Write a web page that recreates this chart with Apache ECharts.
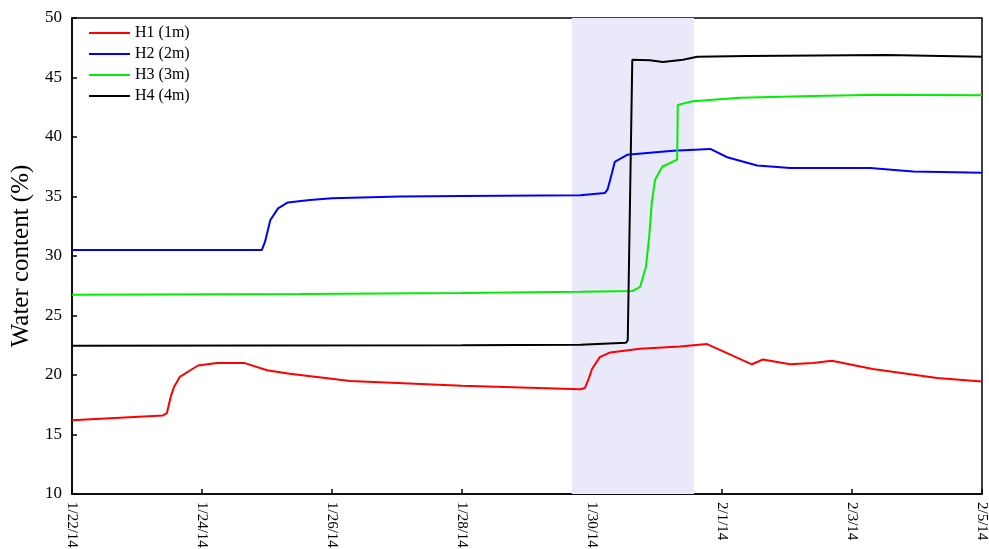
<!DOCTYPE html>
<html>
<head>
<meta charset="utf-8">
<script src="https://cdn.jsdelivr.net/npm/echarts@6/dist/echarts.min.js"></script>
<style>
  html, body { margin: 0; padding: 0; background: #fff; }
  #chart { width: 989px; height: 549px; }
</style>
</head>
<body>
<div id="chart"></div>
<script>
// x values are days since 1/22/14 00:00
var h1Days = [0, 1.40, 1.46, 1.52, 1.57, 1.66, 1.82, 1.94, 2.23, 2.66, 3.0, 3.35, 4.28, 6.0, 7.82, 7.89, 7.95, 8.0, 8.12, 8.28, 8.74, 9.35, 9.77, 10.46, 10.63, 11.05, 11.4, 11.69, 12.32, 13.31, 14.0];
var h1Vals = [16.2, 16.6, 16.8, 18.2, 19.0, 19.85, 20.4, 20.8, 21.0, 21.0, 20.4, 20.1, 19.5, 19.1, 18.8, 18.9, 19.7, 20.5, 21.5, 21.9, 22.2, 22.4, 22.6, 20.9, 21.3, 20.9, 21.0, 21.2, 20.5, 19.75, 19.45];

var h2Days = [0, 2.92, 2.97, 3.05, 3.17, 3.32, 3.66, 4.0, 5.05, 6.0, 7.82, 8.2, 8.24, 8.28, 8.35, 8.54, 9.25, 9.82, 10.08, 10.54, 11.05, 12.28, 12.94, 14.0];
var h2Vals = [30.5, 30.5, 31.2, 33.0, 34.0, 34.5, 34.7, 34.85, 35.0, 35.05, 35.1, 35.3, 35.6, 36.4, 37.9, 38.5, 38.85, 39.0, 38.3, 37.6, 37.4, 37.4, 37.1, 37.0];

var h3Days = [0, 3.5, 6.0, 7.82, 8.62, 8.74, 8.83, 8.88, 8.92, 8.97, 9.08, 9.31, 9.32, 9.55, 10.28, 11.4, 12.43, 14.0];
var h3Vals = [26.75, 26.8, 26.9, 27.0, 27.05, 27.4, 29.1, 31.6, 34.5, 36.4, 37.5, 38.1, 42.7, 43.0, 43.3, 43.45, 43.55, 43.5];

var h4Days = [0, 6.0, 7.82, 8.52, 8.55, 8.62, 8.89, 9.09, 9.4, 9.62, 10.38, 12.54, 14.0];
var h4Vals = [22.45, 22.5, 22.55, 22.7, 22.9, 46.5, 46.45, 46.3, 46.5, 46.75, 46.8, 46.9, 46.75];

var seriesNames = ['H1 (1m)', 'H2 (2m)', 'H3 (3m)', 'H4 (4m)'];
var seriesColors = ['#ff0000', '#0000ff', '#00ee00', '#000000'];
var shadeRange = [7.69, 9.57];

function pairs(xs, ys) {
  var out = [];
  for (var i = 0; i < xs.length; i++) out.push([xs[i], ys[i]]);
  return out;
}

var allData = [pairs(h1Days, h1Vals), pairs(h2Days, h2Vals), pairs(h3Days, h3Vals), pairs(h4Days, h4Vals)];

var font = '"Liberation Serif", "Times New Roman", serif';

var series = [{
  name: 'shade',
  type: 'line',
  data: [],
  silent: true,
  z: 1,
  markArea: {
    silent: true,
    itemStyle: { color: 'rgb(233,233,250)' },
    data: [[{ xAxis: shadeRange[0] }, { xAxis: shadeRange[1] }]]
  }
}];
for (var i = 0; i < seriesNames.length; i++) {
  series.push({
    name: seriesNames[i],
    type: 'line',
    data: allData[i],
    symbol: 'none',
    smooth: false,
    z: 3,
    lineStyle: { color: seriesColors[i], width: 2 },
    itemStyle: { color: seriesColors[i] }
  });
}

var myChart = echarts.init(document.getElementById('chart'));
var option = {
  animation: false,
  backgroundColor: '#fff',
  grid: {
    left: 72, right: 7, top: 18, bottom: 55,
    outerBoundsMode: 'none',
    containLabel: false,
    show: true, borderColor: '#000', borderWidth: 1.5, backgroundColor: 'transparent'
  },
  legend: {
    data: seriesNames,
    orient: 'vertical',
    left: 84,
    top: 20,
    icon: 'rect',
    itemWidth: 41,
    itemHeight: 2,
    itemGap: 5,
    textStyle: { fontFamily: font, fontSize: 16, color: '#000' }
  },
  xAxis: {
    type: 'value',
    min: 0, max: 14, interval: 2,
    axisLine: { lineStyle: { color: '#000', width: 1.5 } },
    axisTick: { inside: true, length: 5, lineStyle: { color: '#000', width: 1.5 } },
    splitLine: { show: false },
    axisLabel: {
      rotate: -90,
      margin: 8,
      fontFamily: font, fontSize: 15, color: '#000',
      formatter: function (v) {
        var d = new Date(2014, 0, 22 + Math.round(v));
        return (d.getMonth() + 1) + '/' + d.getDate() + '/14';
      }
    }
  },
  yAxis: {
    type: 'value',
    min: 10, max: 50, interval: 5,
    name: 'Water content (%)',
    nameLocation: 'middle',
    nameGap: 37,
    nameTextStyle: { fontFamily: font, fontSize: 25, color: '#000' },
    axisLine: { show: true, lineStyle: { color: '#000', width: 1.5 } },
    axisTick: { show: true, inside: true, length: 5, lineStyle: { color: '#000', width: 1.5 } },
    splitLine: { show: false },
    axisLabel: { margin: 10, fontFamily: font, fontSize: 17, color: '#000' }
  },
  series: series
};
myChart.setOption(option);
</script>
</body>
</html>
